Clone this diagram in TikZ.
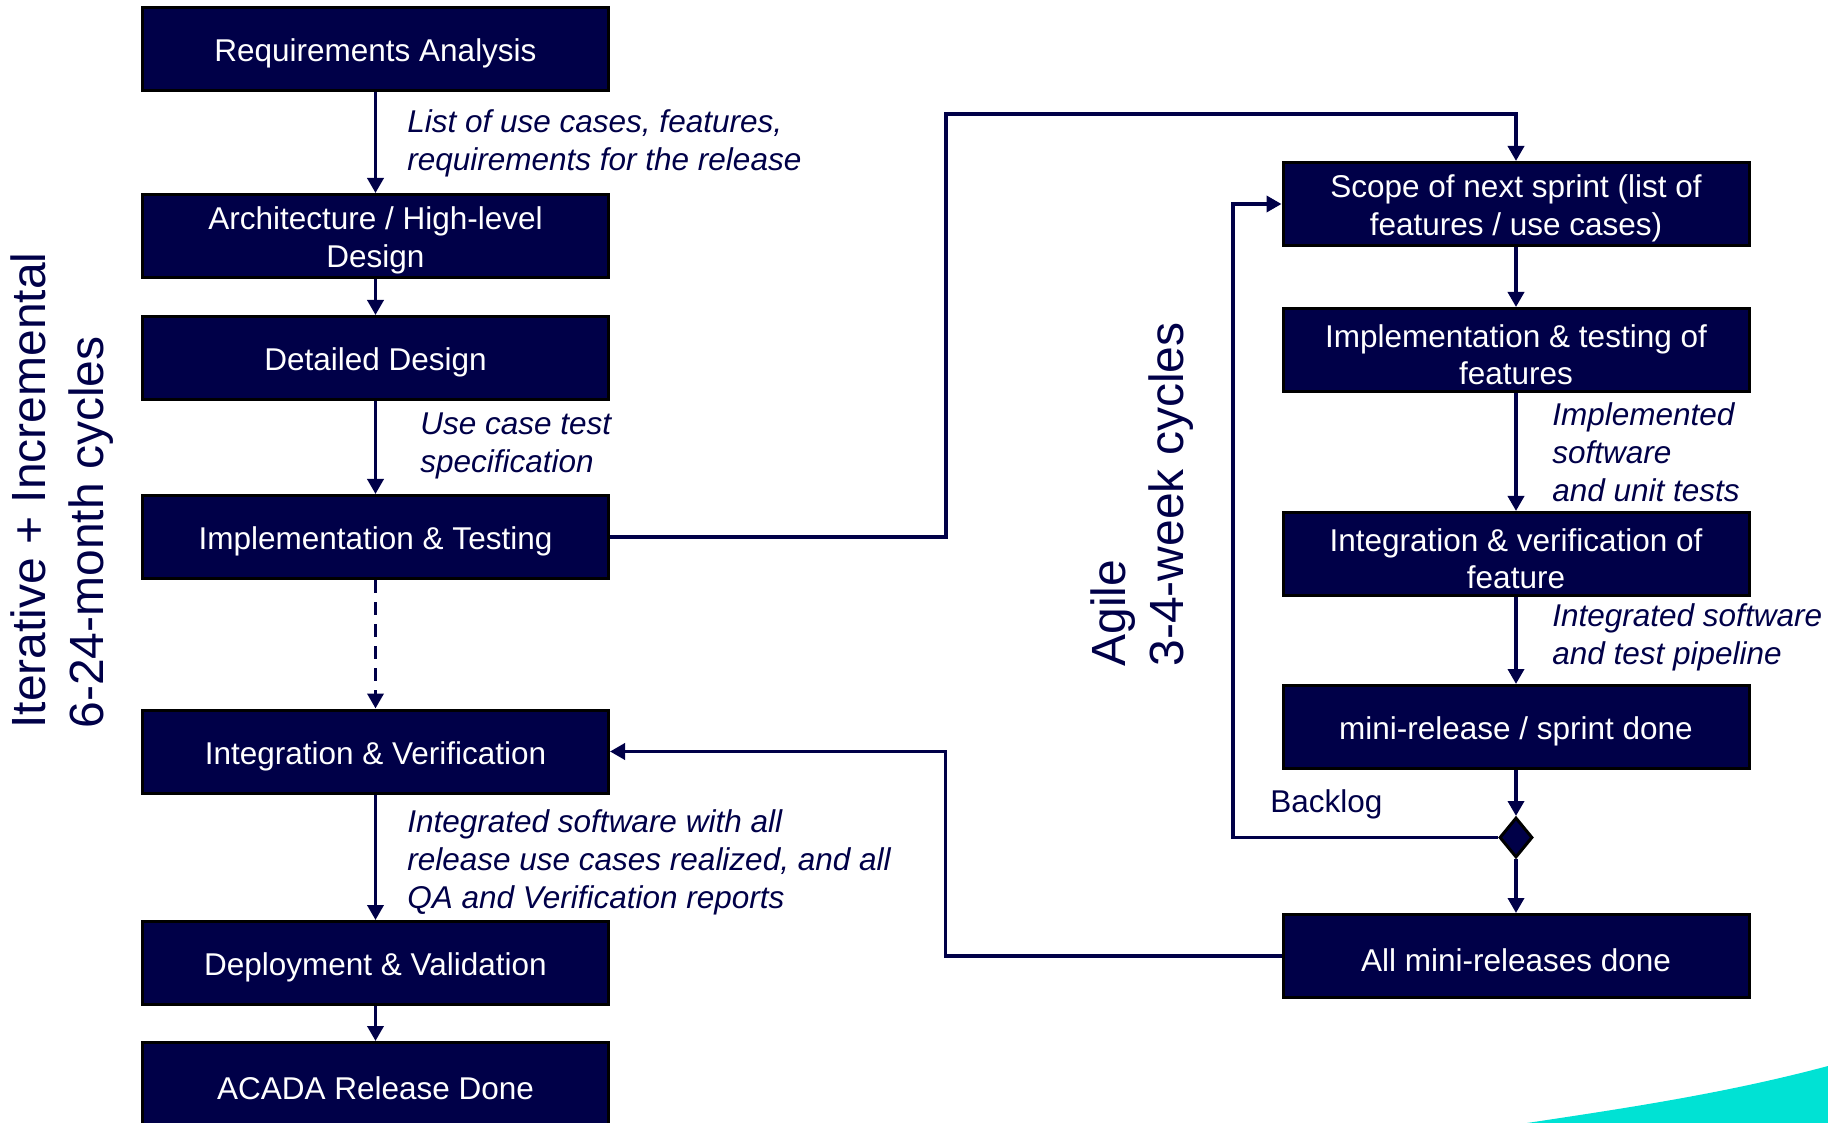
\documentclass[tikz,border=0pt]{standalone}
\usepackage{fontspec}
\setmainfont{Liberation Sans}
\usepackage{tikz}
\usetikzlibrary{positioning,arrows.meta,shapes.geometric}
\definecolor{boxnavy}{RGB}{0,0,72}
\definecolor{swoosh}{RGB}{0,226,212}

\begin{document}
\begin{tikzpicture}[
  x=0.5pt, y=-0.5pt,
  font=\fontsize{15.75}{18.6}\selectfont,
  box/.style={draw=black, line width=1.5pt, fill=boxnavy, text=white, align=center,
    minimum width=233pt, minimum height=41.5pt, inner sep=1pt, text height=15.8pt},
  tallbox/.style={box, text height=34.4pt},
  note/.style={font=\fontsize{15.75}{19}\selectfont\itshape, text=boxnavy, align=left, anchor=west, inner sep=0pt},
  side/.style={font=\fontsize{24}{29}\selectfont, text=boxnavy, align=left, rotate=90, anchor=west, inner sep=0pt},
  decision/.style={diamond, draw=black, line width=1.5pt, fill=boxnavy, minimum width=16.5pt, minimum height=20pt, inner sep=0pt},
  arr/.style={-{Triangle[length=7.5pt,width=8pt]}, line width=1.8pt, draw=boxnavy}
]
\useasboundingbox (0,0) rectangle (1828,1123);
\fill[swoosh] (1527,1123) .. controls (1627,1108) and (1727,1093) .. (1828,1066) -- (1828,1123) -- cycle;

% release cycle
\node[box] (req) at (375.5,49) {Requirements Analysis};
\node[tallbox, below=50.5pt of req] (arch) {Architecture / High-level\\Design};
\node[box, below=18pt of arch] (det) {Detailed Design};
\node[box, below=46.5pt of det] (impl) {Implementation \& Testing};
\node[box, below=64.25pt of impl] (intver) {Integration \& Verification};
\node[box, below=62.75pt of intver] (deploy) {Deployment \& Validation};
\node[box, below=17.5pt of deploy] (acada) {ACADA Release Done};

% sprint cycle
\node[tallbox] (scope) at (1516,204) {Scope of next sprint (list of\\features / use cases)};
\node[tallbox, below=30pt of scope] (implf) {Implementation \& testing of\\features};
\node[tallbox, below=59pt of implf] (intf) {Integration \& verification of\\feature};
\node[box, below=43.5pt of intf] (mini) {mini-release / sprint done};
\node[decision, below=23pt of mini] (dec) {};
\node[box, below=27pt of dec] (alldone) {All mini-releases done};

\node[note] (lblreq) at (407,143) {List of use cases, features,\\requirements for the release};
\node[note] (lbltest) at (420,445.5) {Use case test\\specification};
\node[note] (lblint) at (407,862) {Integrated software with all\\release use cases realized, and all\\QA and Verification reports};
\node[note] (lblimpl) at (1552,452) {Implemented\\software\\and unit tests};
\node[note] (lblpipe) at (1552,637) {Integrated software\\and test pipeline};
\node[note, font=\fontsize{15.75}{19}\selectfont] (lblback) at (1270,804) {Backlog};

\node[side] (iterlbl) at (62,729) {Iterative + Incremental\\6-24-month cycles};
\node[side] (agilelbl) at (1142,667) {Agile\\3-4-week cycles};

\coordinate (topturn) at (946,114);

\draw[arr] (req) -- (arch);
\draw[arr] (arch) -- (det);
\draw[arr] (det) -- (impl);
\draw[arr, dash pattern=on 6.5pt off 4.5pt] (impl) -- (intver);
\draw[arr] (intver) -- (deploy);
\draw[arr] (deploy) -- (acada);

\draw[arr] (scope) -- (implf);
\draw[arr] (implf) -- (intf);
\draw[arr] (intf) -- (mini);
\draw[arr] (mini) -- (dec);
\draw[arr] (dec) -- (alldone);

\draw[arr] (impl.east) -| (topturn) -| (scope.north);
\draw[arr] (dec.west) -- ++(-265,0) |- (scope.west);
\draw[arr] (alldone.west) -- ++(-336,0) |- (intver.east);
\end{tikzpicture}
\end{document}
